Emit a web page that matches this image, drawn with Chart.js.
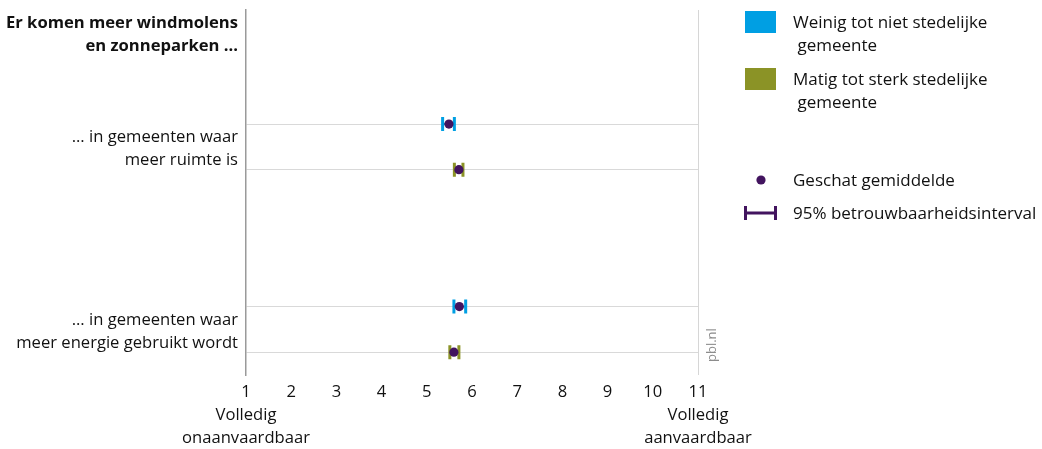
<!DOCTYPE html>
<html>
<head>
<meta charset="utf-8">
<script src="https://cdn.jsdelivr.net/npm/chart.js@4.4.1/dist/chart.umd.min.js"></script>
<style>
  html, body { margin: 0; padding: 0; background: #ffffff; }
  #wrap { width: 1042px; height: 449px; position: relative; }
</style>
</head>
<body>
<div id="wrap"><canvas id="c"></canvas></div>
<script>
// ---- data ----
const title = ['Er komen meer windmolens', 'en zonneparken ...'];
const categories = [
  ['... in gemeenten waar', 'meer ruimte is'],
  ['... in gemeenten waar', 'meer energie gebruikt wordt']
];
const seriesNames = [
  ['Weinig tot niet stedelijke', ' gemeente'],
  ['Matig tot sterk stedelijke', ' gemeente']
];
const seriesColors = ['#009fe3', '#8b9326'];
const meanColor = '#42145f';

// estimated means and 95% intervals per category
const weinigMean = [5.49, 5.72];
const weinigLow  = [5.35, 5.60];
const weinigHigh = [5.61, 5.86];
const matigMean  = [5.71, 5.60];
const matigLow   = [5.61, 5.51];
const matigHigh  = [5.80, 5.71];

const xTicks = [1, 2, 3, 4, 5, 6, 7, 8, 9, 10, 11];
const xEndLabels = { 1: ['Volledig', 'onaanvaardbaar'], 11: ['Volledig', 'aanvaardbaar'] };
const meanLabel = 'Geschat gemiddelde';
const ciLabel = '95% betrouwbaarheidsinterval';
const sourceLabel = 'pbl.nl';

// ---- layout of rows on the vertical scale ----
const FONT = "'Open Sans', 'DejaVu Sans', sans-serif";
const TEXT = '#111111';
const SIZE = 16.6;
const rowOf = (cat, ser) => 5 + 8 * cat + 2 * ser;
const rowTicks = [];
categories.forEach((c, ci) => seriesNames.forEach((s, si) => rowTicks.push(rowOf(ci, si))));
const labelTicks = [1.1].concat(categories.map((c, ci) => 6.1 + 8 * ci));
const labelTexts = [title].concat(categories);

const seriesData = [
  { mean: weinigMean, low: weinigLow, high: weinigHigh },
  { mean: matigMean, low: matigLow, high: matigHigh }
];

const datasets = seriesData.map((s, si) => ({
  label: seriesNames[si].join(''),
  ciColor: seriesColors[si],
  data: s.mean.map((m, ci) => ({ x: m, y: rowOf(ci, si), low: s.low[ci], high: s.high[ci] })),
  pointRadius: 4.6,
  pointHoverRadius: 4.6,
  pointBackgroundColor: meanColor,
  pointBorderWidth: 0,
  showLine: false
}));

// confidence interval "H" marks, drawn beneath the mean dots
const errorBars = {
  id: 'errorBars',
  beforeDatasetsDraw(chart) {
    const { ctx } = chart;
    const xs = chart.scales.x;
    chart.data.datasets.forEach((ds, i) => {
      const meta = chart.getDatasetMeta(i);
      ds.data.forEach((p, j) => {
        const y = meta.data[j].y;
        const x0 = xs.getPixelForValue(p.low);
        const x1 = xs.getPixelForValue(p.high);
        ctx.save();
        ctx.strokeStyle = ds.ciColor;
        ctx.lineWidth = 2;
        ctx.beginPath();
        ctx.moveTo(x0, y); ctx.lineTo(x1, y);
        ctx.stroke();
        ctx.lineWidth = 3;
        ctx.beginPath();
        ctx.moveTo(x0, y - 7); ctx.lineTo(x0, y + 7);
        ctx.moveTo(x1, y - 7); ctx.lineTo(x1, y + 7);
        ctx.stroke();
        ctx.restore();
      });
    });
  }
};

// legend on the right and the source tag
const sideLegend = {
  id: 'sideLegend',
  afterDraw(chart) {
    const { ctx, chartArea } = chart;
    const sx = chartArea.right + 47;
    const tx = chartArea.right + 95;
    const top = chartArea.top;
    ctx.save();
    ctx.font = `17px ${FONT}`;
    ctx.textBaseline = 'middle';
    ctx.textAlign = 'left';
    seriesNames.forEach((name, i) => {
      const y0 = top + 1 + i * 57;
      ctx.fillStyle = seriesColors[i];
      ctx.fillRect(sx, y0, 31, 22);
      ctx.fillStyle = TEXT;
      name.forEach((line, k) => ctx.fillText(line, tx, y0 + 12 + k * 23));
    });
    // mean dot
    ctx.fillStyle = meanColor;
    ctx.beginPath();
    ctx.arc(sx + 16, top + 170, 4.6, 0, Math.PI * 2);
    ctx.fill();
    ctx.fillStyle = TEXT;
    ctx.fillText(meanLabel, tx, top + 171);
    // interval symbol
    const cy = top + 203;
    ctx.strokeStyle = meanColor;
    ctx.lineWidth = 3;
    ctx.beginPath();
    ctx.moveTo(sx - 1, cy); ctx.lineTo(sx + 32, cy);
    ctx.moveTo(sx + 0.5, cy - 7); ctx.lineTo(sx + 0.5, cy + 7);
    ctx.moveTo(sx + 30.5, cy - 7); ctx.lineTo(sx + 30.5, cy + 7);
    ctx.stroke();
    ctx.fillText(ciLabel, tx, cy + 1);
    // source
    ctx.translate(chartArea.right + 14, chartArea.bottom - 13);
    ctx.rotate(-Math.PI / 2);
    ctx.font = `13px ${FONT}`;
    ctx.fillStyle = '#8c8c8c';
    ctx.fillText(sourceLabel, 0, 0);
    ctx.restore();
  }
};

const zeroPad = s => { s.paddingTop = 0; s.paddingBottom = 0; };

new Chart(document.getElementById('c'), {
  type: 'scatter',
  data: { datasets },
  options: {
    responsive: true,
    maintainAspectRatio: false,
    animation: false,
    events: [],
    layout: { padding: { top: 10, right: 344, bottom: 0, left: 0 } },
    plugins: { legend: { display: false }, tooltip: { enabled: false } },
    scales: {
      x: {
        type: 'linear',
        min: 1, max: 11,
        afterBuildTicks: s => { s.ticks = xTicks.map(v => ({ value: v })); },
        ticks: {
          autoSkip: false, maxRotation: 0, minRotation: 0, padding: 6,
          color: TEXT,
          font: { family: FONT, size: SIZE, lineHeight: 1.38 },
          callback: v => xEndLabels[v] ? [String(v)].concat(xEndLabels[v]) : String(v)
        },
        grid: {
          drawTicks: false, lineWidth: 1,
          color: c => (c.tick && c.tick.value === 11) ? '#d6d6d6' : 'rgba(0,0,0,0)'
        },
        border: { display: false },
        afterFit: s => { s.height = 74; s.paddingLeft = 0; s.paddingRight = 0; }
      },
      y: {
        type: 'linear', position: 'left', reverse: true, min: 0, max: 16, weight: 0,
        afterBuildTicks: s => { s.ticks = rowTicks.map(v => ({ value: v })); },
        ticks: { display: false },
        grid: { color: '#d9d9d9', lineWidth: 1, drawTicks: false },
        border: { display: true, color: '#9a9a9a', width: 1.5 },
        afterFit: s => { s.width = 0; zeroPad(s); }
      },
      yl: {
        type: 'linear', position: 'left', reverse: true, min: 0, max: 16, weight: 1,
        afterBuildTicks: s => { s.ticks = labelTicks.map(v => ({ value: v })); },
        ticks: {
          padding: 8, color: TEXT,
          font: c => ({ family: FONT, size: SIZE, lineHeight: 1.38, weight: c.index === 0 ? 'bold' : 'normal' }),
          callback: (v, i) => labelTexts[i]
        },
        grid: { display: false, drawTicks: false },
        border: { display: false },
        afterFit: s => { s.width = 246; zeroPad(s); }
      }
    }
  },
  plugins: [errorBars, sideLegend]
});
</script>
</body>
</html>
